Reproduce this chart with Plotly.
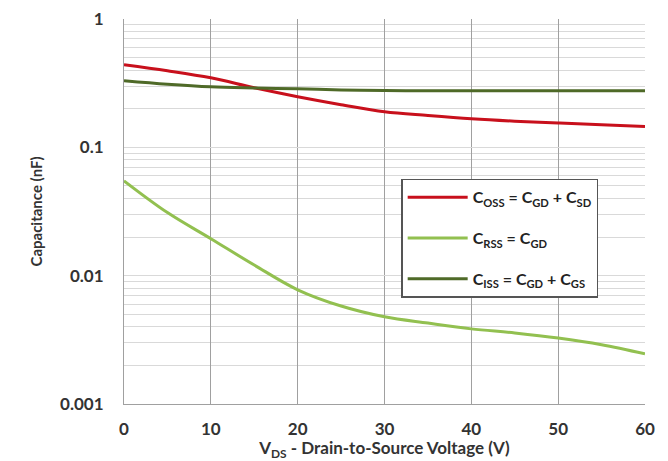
import plotly.graph_objects as go

vds = [0, 5, 10, 15, 20, 25, 30, 35, 40, 45, 50, 55, 60]
coss = [0.44, 0.395, 0.348, 0.291, 0.248, 0.215, 0.189, 0.177, 0.167, 0.16, 0.155, 0.15, 0.145]
crss = [0.0548, 0.031, 0.0194, 0.0121, 0.00776, 0.0058, 0.00478, 0.00427, 0.00385, 0.00358, 0.00327, 0.0029, 0.00246]
ciss = [0.33, 0.31, 0.296, 0.29, 0.286, 0.28, 0.277, 0.276, 0.276, 0.276, 0.276, 0.276, 0.276]

names = ["C<sub>OSS</sub> = C<sub>GD</sub> + C<sub>SD</sub>",
         "C<sub>RSS</sub> = C<sub>GD</sub>",
         "C<sub>ISS</sub> = C<sub>GD</sub> + C<sub>GS</sub>"]
colors = ["#c8101c", "#92c050", "#4f6a28"]
series = [coss, crss, ciss]

ytick_vals = [0.001, 0.01, 0.1, 1]
ytick_text = ["0.001", "0.01", "0.1", "1"]
xtick_vals = [0, 10, 20, 30, 40, 50, 60]

font = "Lato"
fig = go.Figure()
for i, (nm, col, ys) in enumerate(zip(names, colors, series)):
    fig.add_trace(go.Scatter(x=vds, y=ys, mode="lines", name=nm,
                             line=dict(color=col, width=3, shape="spline"),
                             legendgroup=f"g{i}"))

fig.update_layout(
    width=668, height=461,
    margin=dict(l=124, r=23, t=19, b=57),
    paper_bgcolor="white", plot_bgcolor="white",
    font=dict(family=font, color="#333333"),
    legend=dict(x=0.532, y=0.585, xanchor="left", yanchor="top",
                bordercolor="#555555", borderwidth=1.5, bgcolor="white",
                font=dict(size=16, family=font, color="#222222", weight="bold"),
                tracegroupgap=17, itemwidth=60, entrywidth=222),
    xaxis=dict(range=[0, 60], tickvals=xtick_vals, showgrid=True, automargin=False,
               gridcolor="#a0a0a0", gridwidth=1, showline=True, linecolor="#a0a0a0",
               linewidth=1, zeroline=False, ticks="", ticklabelstandoff=10,
               tickfont=dict(size=17, family=font, color="#333333", weight="bold"),
               title=dict(text="V<sub>DS</sub> - Drain-to-Source Voltage (V)",
                          font=dict(size=17, family=font, color="#333333", weight="bold"),
                          standoff=2)),
    yaxis=dict(type="log", range=[-3, 0], tickvals=ytick_vals, ticktext=ytick_text,
               showgrid=True, gridcolor="#d9d9d9", gridwidth=1, automargin=False,
               minor=dict(showgrid=True, gridcolor="#d9d9d9", dtick="D1", ticks=""),
               showline=True, linecolor="#a0a0a0", linewidth=1, zeroline=False,
               ticks="", ticklabelstandoff=16,
               tickfont=dict(size=17, family=font, color="#333333", weight="bold"),
               title=dict(text="Capacitance (nF)",
                          font=dict(size=15, family=font, color="#333333", weight="bold"),
                          standoff=13)),
)
fig.write_html("out.html")
